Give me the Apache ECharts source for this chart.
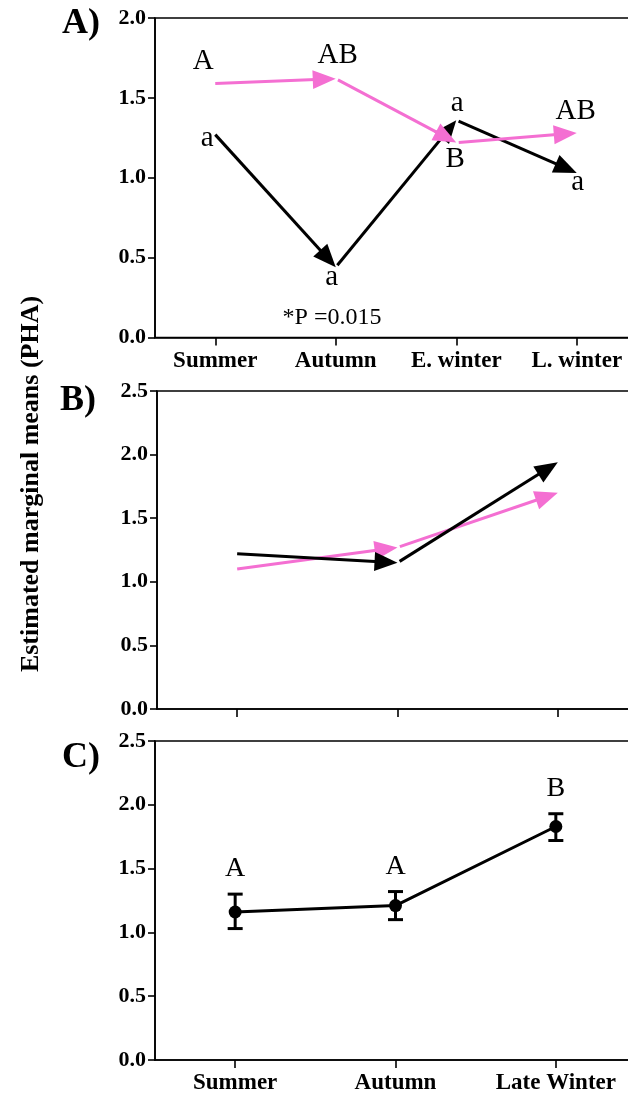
<!DOCTYPE html>
<html>
<head>
<meta charset="utf-8">
<script src="https://cdn.jsdelivr.net/npm/echarts@6/dist/echarts.min.js"></script>
<style>
  html, body { margin: 0; padding: 0; background: #ffffff; overflow: hidden; }
  /* canvas is a little wider than the page so the plot frames run off the right edge */
  #chart { width: 640px; height: 1095px; }
</style>
</head>
<body>
<div id="chart"></div>
<script>
// ---- Panel A: four seasons, two groups (pink = upper-case letters, black = lower-case) ----
const seasonsA = ['Summer', 'Autumn', 'E. winter', 'L. winter'];
const pinkA = [1.59, 1.62, 1.22, 1.28];
const blackA = [1.27, 0.44, 1.36, 1.03];
const pinkLettersA = ['A', 'AB', 'B', 'AB'];
const blackLettersA = ['a', 'a', 'a', 'a'];
const pNote = '*P =0.015';

// ---- Panel B: three seasons, two groups ----
const seasonsB = ['Summer', 'Autumn', 'Late Winter'];
const pinkB = [1.10, 1.27, 1.70];
const blackB = [1.22, 1.15, 1.94];

// ---- Panel C: pooled means with error bars ----
const seasonsC = ['Summer', 'Autumn', 'Late Winter'];
const meanC = [1.16, 1.21, 1.83];
const lowerC = [1.03, 1.10, 1.72];
const upperC = [1.30, 1.32, 1.93];
const lettersC = ['A', 'A', 'B'];

// ---- axis ranges ----
const yMaxA = 2.0;
const yMaxBC = 2.5;
const yStep = 0.5;
const yTitle = 'Estimated marginal means (PHA)';
const panelTags = ['A)', 'B)', 'C)'];

// ---- styling ----
const PINK = '#f46fd2';
const INK = '#000000';
const SERIF = '"Liberation Serif", "Times New Roman", serif';

// letter label placement around each point (pixels)
const pinkOffsetsA = [[-12, -22], [2, -23], [-1, 17], [-1, -22]];
const blackOffsetsA = [[-8, 4], [-4, 10], [1, -17], [1, 9]];
const offsetsC = [[0, -25], [0, -25], [0, -25]];

const grids = [
  { left: 155, top: 18, width: 482, height: 319.5 },
  { left: 157, top: 391, width: 481, height: 318 },
  { left: 155, top: 741, width: 481, height: 319 }
];

function xAxisFor(i, cats, showLabels) {
  return {
    type: 'category', gridIndex: i, data: cats, boundaryGap: true,
    axisLine: { show: true, lineStyle: { color: INK, width: 1.6 } },
    axisTick: { show: true, alignWithLabel: true, length: 8, lineStyle: { color: INK, width: 1.6 } },
    axisLabel: { show: showLabels, margin: 12, color: INK, fontFamily: SERIF, fontWeight: 'bold', fontSize: 23 },
    splitLine: { show: false }
  };
}

function yAxisFor(i, max) {
  return {
    type: 'value', gridIndex: i, min: 0, max: max, interval: yStep,
    axisLine: { show: true, lineStyle: { color: INK, width: 1.6 } },
    axisTick: { show: true, length: 7, lineStyle: { color: INK, width: 1.6 } },
    axisLabel: { margin: 9, color: INK, fontFamily: SERIF, fontWeight: 'bold', fontSize: 22,
      formatter: v => v.toFixed(1) },
    splitLine: { show: false }
  };
}

// Arrow chain: one arrow from each point to the next, head ending on the next value
function arrowSeries(gridIdx, values, color, z) {
  const segs = [];
  for (let i = 0; i < values.length - 1; i++) segs.push([i, values[i], i + 1, values[i + 1]]);
  return {
    type: 'custom', xAxisIndex: gridIdx, yAxisIndex: gridIdx, data: segs, z: z, silent: true,
    renderItem(params, api) {
      const p0 = api.coord([api.value(0), api.value(1)]);
      const p1 = api.coord([api.value(2), api.value(3)]);
      const dx = p1[0] - p0[0], dy = p1[1] - p0[1];
      const L = Math.hypot(dx, dy);
      const ux = dx / L, uy = dy / L, nx = -uy, ny = ux;
      const head = 23, half = 9.5;
      const gap = params.dataIndex === 0 ? 0 : 2.5;
      const base = [p1[0] - ux * head, p1[1] - uy * head];
      return {
        type: 'group',
        children: [
          { type: 'line',
            shape: { x1: p0[0] + ux * gap, y1: p0[1] + uy * gap, x2: p1[0] - ux * head * 0.6, y2: p1[1] - uy * head * 0.6 },
            style: { stroke: color, lineWidth: 3, lineCap: 'butt' } },
          { type: 'polygon',
            shape: { points: [[p1[0], p1[1]], [base[0] + nx * half, base[1] + ny * half], [base[0] - nx * half, base[1] - ny * half]] },
            style: { fill: color } }
        ]
      };
    }
  };
}

// Letter labels placed next to the points they annotate
function letterSeries(gridIdx, values, letters, offsets, size, z) {
  return {
    type: 'custom', xAxisIndex: gridIdx, yAxisIndex: gridIdx, silent: true, z: z,
    data: values.map((v, i) => [i, v]),
    renderItem(params, api) {
      const p = api.coord([api.value(0), api.value(1)]);
      const off = offsets[params.dataIndex];
      return {
        type: 'text', x: p[0] + off[0], y: p[1] + off[1],
        style: { text: letters[params.dataIndex], fill: INK, font: size + 'px ' + SERIF,
          textAlign: 'center', textVerticalAlign: 'middle' }
      };
    }
  };
}

const series = [
  arrowSeries(0, blackA, INK, 3),
  arrowSeries(0, pinkA, PINK, 4),
  letterSeries(0, pinkA, pinkLettersA, pinkOffsetsA, 29, 6),
  letterSeries(0, blackA, blackLettersA, blackOffsetsA, 29, 6),

  arrowSeries(1, pinkB, PINK, 3),
  arrowSeries(1, blackB, INK, 4),

  {
    type: 'line', xAxisIndex: 2, yAxisIndex: 2, data: meanC, silent: true, z: 4,
    symbol: 'circle', symbolSize: 13, showSymbol: true,
    itemStyle: { color: INK }, lineStyle: { color: INK, width: 3 }
  },
  {
    type: 'custom', xAxisIndex: 2, yAxisIndex: 2, silent: true, z: 5,
    data: meanC.map((m, i) => [i, lowerC[i], upperC[i]]),
    renderItem(params, api) {
      const x = api.value(0);
      const top = api.coord([x, api.value(2)]);
      const bot = api.coord([x, api.value(1)]);
      const cap = 7.5;
      const st = { stroke: INK, lineWidth: 3 };
      return {
        type: 'group',
        children: [
          { type: 'line', shape: { x1: top[0], y1: top[1], x2: bot[0], y2: bot[1] }, style: st },
          { type: 'line', shape: { x1: top[0] - cap, y1: top[1], x2: top[0] + cap, y2: top[1] }, style: st },
          { type: 'line', shape: { x1: bot[0] - cap, y1: bot[1], x2: bot[0] + cap, y2: bot[1] }, style: st }
        ]
      };
    }
  },
  letterSeries(2, upperC, lettersC, offsetsC, 28, 6)
];

const tagStyle = (txt) => ({ text: txt, font: 'bold 36px ' + SERIF, fill: INK, textAlign: 'center', textVerticalAlign: 'middle' });

const option = {
  animation: false,
  backgroundColor: '#ffffff',
  grid: grids.map(g => Object.assign({ show: true, borderColor: INK, borderWidth: 1.6, backgroundColor: 'transparent', containLabel: false }, g)),
  xAxis: [xAxisFor(0, seasonsA, true), xAxisFor(1, seasonsB, false), xAxisFor(2, seasonsC, true)],
  yAxis: [yAxisFor(0, yMaxA), yAxisFor(1, yMaxBC), yAxisFor(2, yMaxBC)],
  series: series,
  graphic: [
    { type: 'text', x: 81, y: 24, style: tagStyle(panelTags[0]) },
    { type: 'text', x: 78, y: 401, style: tagStyle(panelTags[1]) },
    { type: 'text', x: 81, y: 758, style: tagStyle(panelTags[2]) },
    { type: 'text', x: 31, y: 484, rotation: Math.PI / 2,
      style: { text: yTitle, font: 'bold 26px ' + SERIF, fill: INK, textAlign: 'center', textVerticalAlign: 'middle' } },
    { type: 'text', x: 332, y: 318,
      style: { text: pNote, font: '24px ' + SERIF, fill: INK, textAlign: 'center', textVerticalAlign: 'middle' } }
  ]
};

const chart = echarts.init(document.getElementById('chart'), null, { renderer: 'canvas' });
chart.setOption(option);
</script>
</body>
</html>
